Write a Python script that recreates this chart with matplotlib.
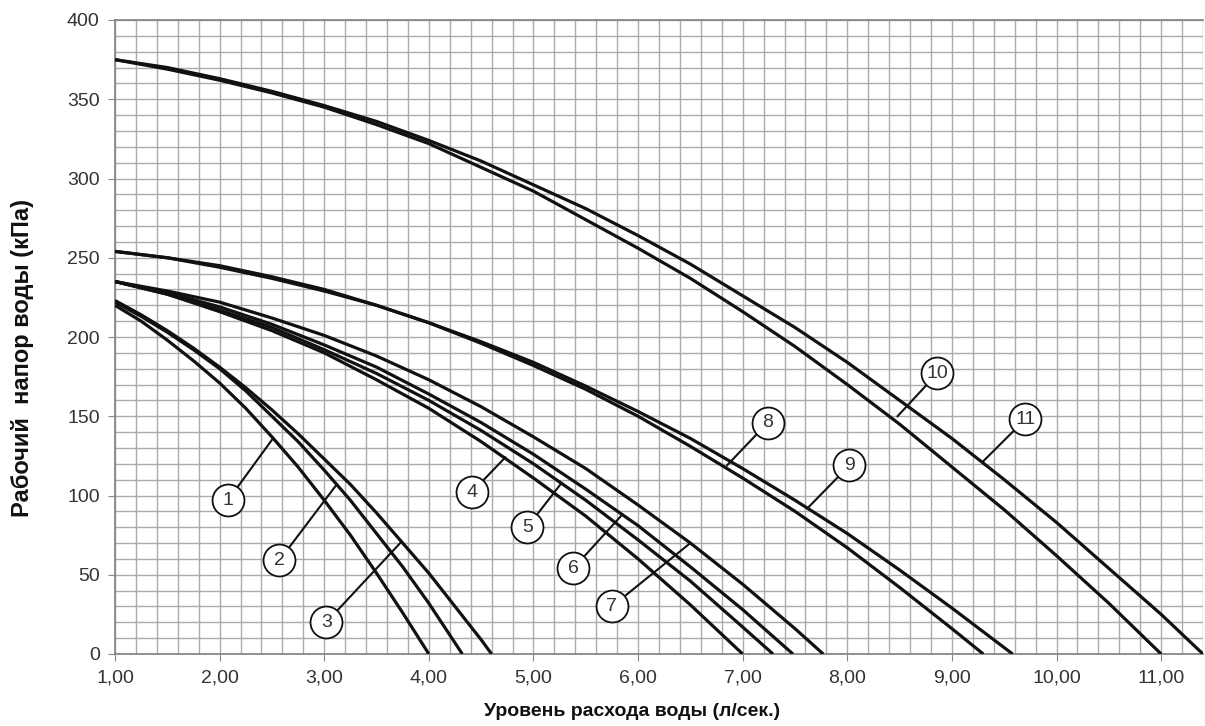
import numpy as np
import matplotlib.pyplot as plt
from matplotlib.ticker import MultipleLocator, FuncFormatter

plt.rcParams['font.family'] = ['Liberation Sans', 'DejaVu Sans']

# Pump curves: flow (l/s) vs head (kPa)
flow_1 = [1.0, 1.25, 1.5, 1.75, 2.0, 2.25, 2.5, 2.75, 3.0, 3.25, 3.5, 3.75, 4.0]
head_1 = [220, 210, 198, 185, 171, 155, 137, 118, 97, 75, 51, 26, 0]

flow_2 = [1.0, 1.25, 1.5, 1.75, 2.0, 2.25, 2.5, 2.75, 3.0, 3.25, 3.5, 3.75, 4.0, 4.25, 4.32]
head_2 = [222, 213, 203, 192, 180, 166, 150, 134, 116, 97, 76, 55, 32, 7, 0]

flow_3 = [1.0, 1.25, 1.5, 1.75, 2.0, 2.25, 2.5, 2.75, 3.0, 3.25, 3.5, 3.75, 4.0, 4.25, 4.5, 4.6]
head_3 = [223, 214, 204, 193, 181, 168, 154, 139, 123, 107, 89, 70, 51, 30, 9, 0]

flow_4 = [1.0, 1.5, 2.0, 2.5, 3.0, 3.5, 4.0, 4.5, 5.0, 5.5, 6.0, 6.5, 7.0]
head_4 = [235, 227, 216, 204, 190, 173, 155, 134, 111, 87, 60, 31, 0]

flow_5 = [1.0, 1.5, 2.0, 2.5, 3.0, 3.5, 4.0, 4.5, 5.0, 5.5, 6.0, 6.5, 7.0, 7.29]
head_5 = [235, 227, 217, 206, 192, 177, 160, 141, 120, 97, 72, 46, 17, 0]

flow_6 = [1.0, 1.5, 2.0, 2.5, 3.0, 3.5, 4.0, 4.5, 5.0, 5.5, 6.0, 6.5, 7.0, 7.48]
head_6 = [235, 228, 219, 208, 195, 181, 164, 146, 126, 104, 81, 55, 28, 0]

flow_7 = [1.0, 1.5, 2.0, 2.5, 3.0, 3.5, 4.0, 4.5, 5.0, 5.5, 6.0, 6.5, 7.0, 7.5, 7.77]
head_7 = [235, 229, 222, 212, 201, 188, 173, 156, 137, 117, 94, 70, 44, 16, 0]

flow_8 = [1.0, 1.5, 2.0, 2.5, 3.0, 3.5, 4.0, 4.5, 5.0, 5.5, 6.0, 6.5, 7.0, 7.5, 8.0, 8.5, 9.0, 9.3]
head_8 = [254, 250, 245, 238, 230, 220, 209, 196, 182, 167, 150, 131, 111, 90, 67, 42, 16, 0]

flow_9 = [1.0, 1.5, 2.0, 2.5, 3.0, 3.5, 4.0, 4.5, 5.0, 5.5, 6.0, 6.5, 7.0, 7.5, 8.0, 8.5, 9.0, 9.5, 9.58]
head_9 = [254, 250, 244, 237, 229, 220, 209, 197, 184, 169, 153, 136, 117, 97, 76, 53, 29, 4, 0]

flow_10 = [1.0, 1.5, 2.0, 2.5, 3.0, 3.5, 4.0, 4.5, 5.0, 5.5, 6.0, 6.5, 7.0, 7.5, 8.0, 8.5, 9.0, 9.5, 10.0, 10.5, 11.0]
head_10 = [375, 369, 362, 354, 345, 334, 322, 307, 292, 274, 256, 237, 216, 194, 170, 145, 118, 91, 62, 32, 0]

flow_11 = [1.0, 1.5, 2.0, 2.5, 3.0, 3.5, 4.0, 4.5, 5.0, 5.5, 6.0, 6.5, 7.0, 7.5, 8.0, 8.5, 9.0, 9.5, 10.0, 10.5, 11.0, 11.4]
head_11 = [375, 370, 363, 355, 346, 336, 324, 311, 296, 281, 264, 246, 226, 206, 184, 160, 136, 110, 83, 54, 25, 0]

curves = [(flow_1, head_1), (flow_2, head_2), (flow_3, head_3), (flow_4, head_4),
          (flow_5, head_5), (flow_6, head_6), (flow_7, head_7), (flow_8, head_8),
          (flow_9, head_9), (flow_10, head_10), (flow_11, head_11)]

# callouts: number, circle centre, point on the curve
callout_ids = ['1', '2', '3', '4', '5', '6', '7', '8', '9', '10', '11']
callout_x = [2.08, 2.57, 3.02, 4.41, 4.94, 5.38, 5.75, 7.24, 8.02, 8.86, 9.70]
callout_y = [97, 59, 20, 102, 80, 54, 30, 146, 119, 177, 148]
touch_x = [2.51, 3.12, 3.74, 4.73, 5.27, 5.85, 6.50, 6.85, 7.62, 8.48, 9.29]
touch_y = [136, 107, 71, 124, 108, 88, 70, 119, 92, 150, 121]

fig = plt.figure(figsize=(12.05, 7.26), dpi=100)
ax = fig.add_axes([115 / 1205, 1 - 654 / 726, (1203 - 115) / 1205, (654 - 20) / 726])

for fx, hy in curves:
    ax.plot(fx, hy, color='#111111', lw=2.3, solid_capstyle='butt', solid_joinstyle='round', zorder=3)

for i in range(len(callout_ids)):
    ax.plot([callout_x[i], touch_x[i]], [callout_y[i], touch_y[i]], color='#111111', lw=1.5, zorder=4)
    ax.plot(callout_x[i], callout_y[i], 'o', ms=23, mfc='white', mec='#111111', mew=1.3, zorder=5)
    ax.text(callout_x[i], callout_y[i], callout_ids[i], ha='center', va='center',
            fontsize=14, color='#333333', zorder=6)

ax.set_xlim(1, 11.4)
ax.set_ylim(0, 400)
ax.xaxis.set_major_locator(MultipleLocator(1))
ax.xaxis.set_minor_locator(MultipleLocator(0.2))
ax.yaxis.set_major_locator(MultipleLocator(50))
ax.yaxis.set_minor_locator(MultipleLocator(10))
ax.xaxis.set_major_formatter(FuncFormatter(lambda v, p: f'{v:.2f}'.replace('.', ',')))
ax.grid(which='both', color='#ababab', lw=1.0)
ax.set_axisbelow(True)
ax.tick_params(which='major', length=5, color='#888888', labelsize=14, labelcolor='#333333', pad=6)
ax.tick_params(which='minor', length=0)
for side in ['left', 'bottom', 'top']:
    ax.spines[side].set_color('#888888')
    ax.spines[side].set_linewidth(1.3)
ax.spines['right'].set_visible(False)

fig.text(632 / 1205, 1 - 712 / 726, 'Уровень расхода воды (л/сек.)', ha='center', va='center',
         fontsize=14, fontweight='bold', color='#111111')
fig.text(23 / 1205, 1 - 358 / 726, 'Рабочий  напор воды (кПа)', ha='center', va='center',
         rotation=90, fontsize=17, fontweight='bold', color='#111111')

fig.savefig('out.png', dpi=100)
